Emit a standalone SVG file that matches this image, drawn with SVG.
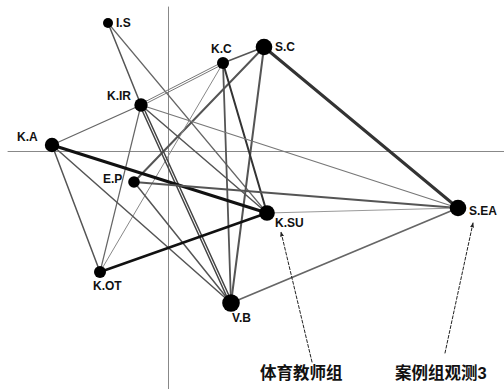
<svg xmlns="http://www.w3.org/2000/svg" width="504" height="389" viewBox="0 0 504 389">
<style>
.lbl{font-family:"Liberation Sans",Arial,sans-serif;font-weight:bold;font-size:12px;fill:#111}
.cjk{font-family:"Liberation Sans","Noto Sans CJK SC",sans-serif;font-weight:bold;font-size:16.5px;fill:#111}
.ax{stroke:#888;stroke-width:1;fill:none}
.node{fill:#000}
line{stroke-linecap:round}
.ann{stroke:#222;stroke-width:1;stroke-dasharray:3,2;fill:none}
</style>
<defs>
<marker id="ah" viewBox="0 0 10 10" refX="9" refY="5" markerWidth="5" markerHeight="5" orient="auto" markerUnits="userSpaceOnUse">
<path d="M0,1 L10,5 L0,9 Z" fill="#222"/>
</marker>
</defs>
<rect width="504" height="389" fill="#fff"/>
<g id="axes">
<line class="ax" x1="168.5" y1="7" x2="168.5" y2="389"/>
<line class="ax" x1="8" y1="151.5" x2="504" y2="151.5"/>
</g>
<g id="connectors">
<line x1="108" y1="23" x2="141" y2="105" stroke="#555" stroke-width="1.5"/>
<line x1="108" y1="23" x2="267" y2="213" stroke="#666" stroke-width="1.2"/>
<line x1="52" y1="145" x2="141" y2="105" stroke="#666" stroke-width="1.3"/>
<line x1="141.5" y1="105.9" x2="223.5" y2="63.9" stroke="#777" stroke-width="1"/>
<line x1="140.5" y1="104.1" x2="222.5" y2="62.1" stroke="#777" stroke-width="1"/>
<line x1="223" y1="63" x2="264" y2="47" stroke="#555" stroke-width="1.5"/>
<line x1="264" y1="47" x2="458" y2="208" stroke="#333" stroke-width="3"/>
<line x1="264" y1="47" x2="134" y2="182" stroke="#555" stroke-width="2"/>
<line x1="264" y1="47" x2="231" y2="303" stroke="#555" stroke-width="2"/>
<line x1="223" y1="63" x2="231" y2="303" stroke="#555" stroke-width="1.8"/>
<line x1="223" y1="63" x2="267" y2="213" stroke="#333" stroke-width="2"/>
<line x1="223" y1="63" x2="100" y2="272" stroke="#888" stroke-width="1"/>
<line x1="141" y1="105" x2="458" y2="208" stroke="#777" stroke-width="1.2"/>
<line x1="142.1" y1="104.5" x2="232.1" y2="302.5" stroke="#444" stroke-width="1.5"/>
<line x1="139.9" y1="105.5" x2="229.9" y2="303.5" stroke="#444" stroke-width="1.5"/>
<line x1="141" y1="105" x2="100" y2="272" stroke="#666" stroke-width="1.2"/>
<line x1="141" y1="105" x2="267" y2="213" stroke="#555" stroke-width="1.5"/>
<line x1="52" y1="145" x2="267" y2="213" stroke="#111" stroke-width="3"/>
<line x1="52" y1="145" x2="100" y2="272" stroke="#555" stroke-width="1.5"/>
<line x1="52" y1="145" x2="231" y2="303" stroke="#555" stroke-width="1.5"/>
<line x1="134" y1="182" x2="458" y2="208" stroke="#555" stroke-width="2"/>
<line x1="134" y1="182" x2="231" y2="303" stroke="#555" stroke-width="1.5"/>
<line x1="100" y1="272" x2="267" y2="213" stroke="#111" stroke-width="2.5"/>
<line x1="267" y1="213" x2="458" y2="208" stroke="#999" stroke-width="1.2"/>
<line x1="231" y1="303" x2="458" y2="208" stroke="#666" stroke-width="1.8"/>
</g>
<g id="n-IS"><circle class="node" cx="108" cy="23" r="5"/><text class="lbl" x="116" y="27">I.S</text></g>
<g id="n-KC"><circle class="node" cx="223" cy="63" r="6"/><text class="lbl" x="211" y="53">K.C</text></g>
<g id="n-SC"><circle class="node" cx="264" cy="47" r="8.3"/><text class="lbl" x="275" y="51">S.C</text></g>
<g id="n-KIR"><circle class="node" cx="141" cy="105" r="6.7"/><text class="lbl" x="107" y="100">K.IR</text></g>
<g id="n-KA"><circle class="node" cx="52" cy="145" r="7.2"/><text class="lbl" x="17" y="141">K.A</text></g>
<g id="n-EP"><circle class="node" cx="134" cy="182" r="5.8"/><text class="lbl" x="103" y="183">E.P</text></g>
<g id="n-KOT"><circle class="node" cx="100" cy="272" r="6"/><text class="lbl" x="93" y="290">K.OT</text></g>
<g id="n-VB"><circle class="node" cx="231" cy="303" r="8.8"/><text class="lbl" x="232" y="322">V.B</text></g>
<g id="n-KSU"><circle class="node" cx="267" cy="213" r="7.8"/><text class="lbl" x="275" y="227">K.SU</text></g>
<g id="n-SEA"><circle class="node" cx="458" cy="208" r="8.3"/><text class="lbl" x="469" y="215">S.EA</text></g>
<g id="annotations">
<line class="ann" x1="312" y1="362" x2="281" y2="232" marker-end="url(#ah)"/>
<line class="ann" x1="445" y1="353" x2="473" y2="223" marker-end="url(#ah)"/>
<text class="cjk" x="260" y="379">体育教师组</text>
<text class="cjk" x="395" y="379">案例组观测3</text>
</g>
</svg>
